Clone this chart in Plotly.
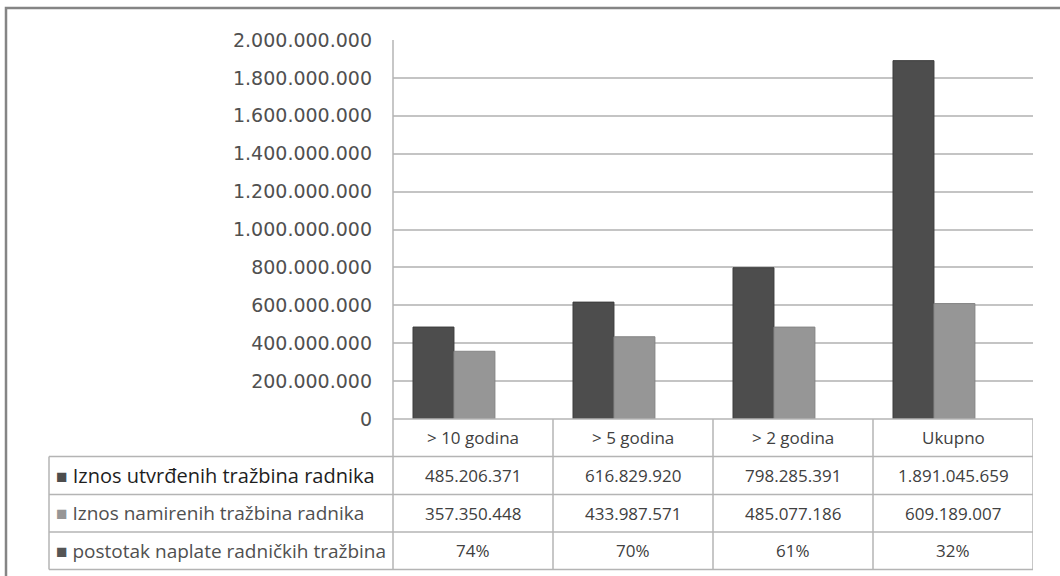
import plotly.graph_objects as go

CATEGORIES = ["> 10 godina", "> 5 godina", "> 2 godina", "Ukupno"]
UTVRDENE = [485206371, 616829920, 798285391, 1891045659]
NAMIRENE = [357350448, 433987571, 485077186, 609189007]
POSTOTAK = ["74%", "70%", "61%", "32%"]

ROW_LABELS = [
    "Iznos utvrđenih tražbina radnika",
    "Iznos namirenih tražbina radnika",
    "postotak naplate radničkih tražbina",
]
DARK = "#4d4d4d"
LIGHT = "#969696"
GRID = "#c4c4c4"
TABLE_LINE = "#b4b4b4"
TEXT_FONT = "Open Sans, Lato, sans-serif"

W, H = 1060, 576
L, R, T, B = 393, 27, 40, 157
PLOT_W = W - L - R
PLOT_H = H - T - B
ROW_EDGES = [419, 456.5, 494.5, 532, 569.5]


def px_x(p):
    return (p - L) / PLOT_W


def px_y(p):
    return (H - B - p) / PLOT_H


def fmt(v):
    return f"{v:,}".replace(",", ".")


fig = go.Figure()
fig.add_trace(go.Bar(
    x=CATEGORIES, y=UTVRDENE, name=ROW_LABELS[0],
    marker={"color": DARK, "line": {"color": "#3c3c3c", "width": 1}},
    offset=-0.375, width=0.256,
))
fig.add_trace(go.Bar(
    x=CATEGORIES, y=NAMIRENE, name=ROW_LABELS[1],
    marker={"color": LIGHT, "line": {"color": "#858585", "width": 1}},
    offset=-0.119, width=0.256,
))

shapes = []
line = {"color": TABLE_LINE, "width": 1.5}
# outer frame of the picture
shapes.append(dict(type="rect", xref="paper", yref="paper",
                   x0=px_x(6), x1=px_x(1075), y0=px_y(600), y1=px_y(8),
                   line={"color": "#858585", "width": 2.5}))
# axis line at zero and table horizontals
shapes.append(dict(type="line", xref="paper", yref="paper",
                   x0=0, x1=1, y0=px_y(ROW_EDGES[0]), y1=px_y(ROW_EDGES[0]), line=line))
for e in ROW_EDGES[1:]:
    shapes.append(dict(type="line", xref="paper", yref="paper",
                       x0=px_x(49), x1=1, y0=px_y(e), y1=px_y(e), line=line))
# left table border and y axis line going down through the table
shapes.append(dict(type="line", xref="paper", yref="paper",
                   x0=px_x(49), x1=px_x(49), y0=px_y(ROW_EDGES[1]), y1=px_y(ROW_EDGES[-1]), line=line))
shapes.append(dict(type="line", xref="paper", yref="paper",
                   x0=0, x1=0, y0=1, y1=px_y(ROW_EDGES[-1]), line=line))
# column dividers
for k in range(len(CATEGORIES)):
    shapes.append(dict(type="line", xref="x", yref="paper",
                       x0=k + 0.5, x1=k + 0.5, y0=px_y(ROW_EDGES[0]), y1=px_y(ROW_EDGES[-1]), line=line))

annotations = []


def row_mid(i):
    return px_y((ROW_EDGES[i] + ROW_EDGES[i + 1]) / 2)


cell_font = {"family": TEXT_FONT, "size": 17, "color": "#404040"}
for cat in CATEGORIES:
    annotations.append(dict(x=cat, xref="x", y=row_mid(0), yref="paper", yanchor="middle",
                            text=cat, showarrow=False, font=cell_font))
rows = [
    [fmt(v) for v in UTVRDENE],
    [fmt(v) for v in NAMIRENE],
    POSTOTAK,
]
for i, vals in enumerate(rows):
    for cat, txt in zip(CATEGORIES, vals):
        annotations.append(dict(x=cat, xref="x", y=row_mid(i + 1), yref="paper", yanchor="middle",
                                text=txt, showarrow=False, font=cell_font))

square_colors = [DARK, LIGHT, "#555555"]
label_colors = ["#1e1e1e", "#505050", "#505050"]
label_sizes = [20, 19, 19]
for i, lab in enumerate(ROW_LABELS):
    annotations.append(dict(
        x=px_x(54), xref="paper", y=row_mid(i + 1), yref="paper", xanchor="left", yanchor="middle",
        text=f"<span style='color:{square_colors[i]};font-size:19px'>■</span> {lab}",
        showarrow=False, font={"family": TEXT_FONT, "size": label_sizes[i], "color": label_colors[i]},
    ))

fig.update_layout(
    width=W, height=H,
    margin={"l": L, "r": R, "t": T, "b": B},
    paper_bgcolor="white", plot_bgcolor="white",
    barmode="overlay", showlegend=False,
    separators=",.",
    shapes=shapes, annotations=annotations,
)
fig.update_xaxes(range=[-0.5, 3.5], showticklabels=False, showgrid=False, zeroline=False, showline=False)
fig.update_yaxes(
    range=[0, 2e9], dtick=2e8, tickformat=",d",
    showgrid=True, gridcolor=GRID, gridwidth=1.5, zeroline=False, showline=False,
    ticklabelstandoff=20,
    tickfont={"family": "DejaVu Sans", "size": 19, "color": "#505050"},
)

fig.write_html("out.html", config={"displayModeBar": False},
               post_script="document.body.style.margin='0px';")
